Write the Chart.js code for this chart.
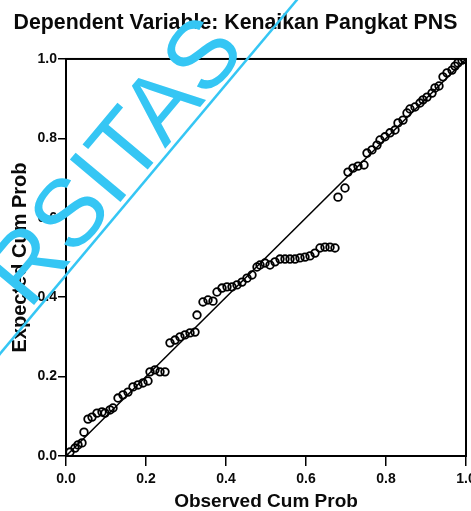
<!DOCTYPE html>
<html>
<head>
<meta charset="utf-8">
<script src="https://cdn.jsdelivr.net/npm/chart.js@4.4.0/dist/chart.umd.min.js"></script>
<style>
  html, body { margin: 0; padding: 0; background: #fff; overflow: hidden; }
  #wrap { width: 485px; height: 511px; }
</style>
</head>
<body>
<div id="wrap"><canvas id="c" width="485" height="511"></canvas></div>
<script>
const chartTitle = 'Dependent Variable: Kenaikan Pangkat PNS';
const xAxisTitle = 'Observed Cum Prob';
const yAxisTitle = 'Expected Cum Prob';
const tickLabels = ['0.0', '0.2', '0.4', '0.6', '0.8', '1.0'];
const watermarkText = 'RSITAS';

const observedCumProb = [
  0.010, 0.0225, 0.030, 0.040, 0.045, 0.055, 0.065, 0.0775, 0.090, 0.0975,
  0.110, 0.1175, 0.130, 0.1425, 0.155, 0.1675, 0.180, 0.1925, 0.205, 0.210,
  0.2225, 0.235, 0.2475, 0.260, 0.2725, 0.285, 0.2975, 0.310, 0.3225, 0.3275,
  0.3425, 0.355, 0.3675, 0.3775, 0.390, 0.4025, 0.415, 0.4275, 0.440, 0.4525,
  0.465, 0.4775, 0.485, 0.4975, 0.510, 0.5225, 0.535, 0.5475, 0.560, 0.5725,
  0.585, 0.5975, 0.610, 0.6225, 0.635, 0.6475, 0.660, 0.6725,
  0.680, 0.6975, 0.705, 0.7175, 0.730, 0.745, 0.7525, 0.765, 0.7775, 0.785,
  0.7975, 0.810, 0.8225, 0.830, 0.8425, 0.8525, 0.860, 0.8725, 0.885, 0.8925,
  0.9025, 0.915, 0.9225, 0.9325, 0.9425, 0.9525, 0.965, 0.9725, 0.980, 0.990, 0.9975
];
const expectedCumProb = [
  0.010, 0.020, 0.028, 0.033, 0.060, 0.093, 0.098, 0.108, 0.111, 0.108,
  0.116, 0.121, 0.146, 0.154, 0.161, 0.174, 0.179, 0.184, 0.189, 0.212,
  0.217, 0.212, 0.212, 0.285, 0.292, 0.300, 0.305, 0.310, 0.312, 0.355,
  0.388, 0.393, 0.390, 0.413, 0.423, 0.426, 0.426, 0.431, 0.438, 0.448,
  0.456, 0.476, 0.481, 0.486, 0.481, 0.489, 0.496, 0.496, 0.496, 0.496,
  0.499, 0.501, 0.504, 0.511, 0.524, 0.526, 0.526, 0.524,
  0.652, 0.675, 0.715, 0.725, 0.730, 0.733, 0.763, 0.771, 0.783, 0.796,
  0.804, 0.814, 0.821, 0.839, 0.846, 0.864, 0.874, 0.879, 0.889, 0.897,
  0.904, 0.914, 0.927, 0.932, 0.955, 0.965, 0.972, 0.982, 0.990, 0.997, 1.000
];
const refLineX = [0, 1];
const refLineY = [0, 1];

const points = observedCumProb.map((x, i) => ({ x: x, y: expectedCumProb[i] }));
const refLine = refLineX.map((x, i) => ({ x: x, y: refLineY[i] }));

const FONT = "'Liberation Sans', Arial, sans-serif";
const INK = '#0a0a0a';
const WM = '#35c6f4';

const framePlugin = {
  id: 'frame',
  afterDatasetsDraw(chart) {
    const a = chart.chartArea, ctx = chart.ctx;
    ctx.save();
    ctx.strokeStyle = '#000';
    ctx.lineWidth = 2;
    ctx.strokeRect(a.left, a.top, a.right - a.left, a.bottom - a.top);
    ctx.restore();
  }
};

const watermarkPlugin = {
  id: 'watermark',
  afterDraw(chart) {
    const ctx = chart.ctx;
    ctx.save();
    ctx.fillStyle = WM;
    ctx.translate(29, 311);
    ctx.rotate(-50 * Math.PI / 180);
    ctx.font = "96px " + FONT;
    ctx.textAlign = 'left';
    ctx.textBaseline = 'alphabetic';
    ctx.fillText(watermarkText, 0, 0);
    // underline rule parallel to the lettering
    ctx.fillRect(-120, 4, 620, 2.5);
    ctx.restore();
  }
};

new Chart(document.getElementById('c'), {
  data: {
    datasets: [
      {
        type: 'scatter',
        data: points,
        pointStyle: 'circle',
        pointRadius: 3.8,
        pointBorderWidth: 1.8,
        pointBorderColor: '#000',
        pointBackgroundColor: 'rgba(255,255,255,0)',
        order: 1
      },
      {
        type: 'line',
        data: refLine,
        borderColor: '#000',
        borderWidth: 1.5,
        pointRadius: 0,
        fill: false,
        order: 2
      }
    ]
  },
  options: {
    responsive: false,
    animation: false,
    devicePixelRatio: 1,
    layout: { padding: { left: 5, right: 19, top: 0, bottom: 0 } },
    plugins: {
      legend: { display: false },
      tooltip: { enabled: false },
      title: {
        display: true,
        text: chartTitle,
        color: INK,
        font: { family: FONT, size: 21.3, weight: 'bold' },
        padding: { top: 10, bottom: 23.4 }
      }
    },
    scales: {
      x: {
        type: 'linear',
        min: 0, max: 1,
        afterFit(scale) { scale.height = 55; },
        ticks: {
          stepSize: 0.2,
          autoSkip: false,
          maxRotation: 0,
          color: INK,
          padding: 5,
          font: { family: FONT, size: 14, weight: 'bold' },
          callback: (v, i) => tickLabels[i]
        },
        grid: { drawOnChartArea: false, drawTicks: true, tickLength: 10, color: '#000', lineWidth: 1.5 },
        border: { display: true, color: '#000', width: 2 },
        title: {
          display: true,
          text: xAxisTitle,
          color: INK,
          font: { family: FONT, size: 19, weight: 'bold', lineHeight: 1.0 },
          padding: { top: 0, bottom: 0 }
        }
      },
      y: {
        type: 'linear',
        min: 0, max: 1,
        afterFit(scale) { scale.width = 61; },
        ticks: {
          stepSize: 0.2,
          autoSkip: false,
          color: INK,
          padding: 1,
          font: { family: FONT, size: 14, weight: 'bold' },
          callback: (v, i) => tickLabels[i]
        },
        grid: { drawOnChartArea: false, drawTicks: true, tickLength: 8, color: '#000', lineWidth: 1.5 },
        border: { display: true, color: '#000', width: 2 },
        title: {
          display: true,
          text: yAxisTitle,
          color: INK,
          font: { family: FONT, size: 20, weight: 'bold' },
          padding: { top: 3, bottom: 0 }
        }
      }
    }
  },
  plugins: [framePlugin, watermarkPlugin]
});
</script>
</body>
</html>
